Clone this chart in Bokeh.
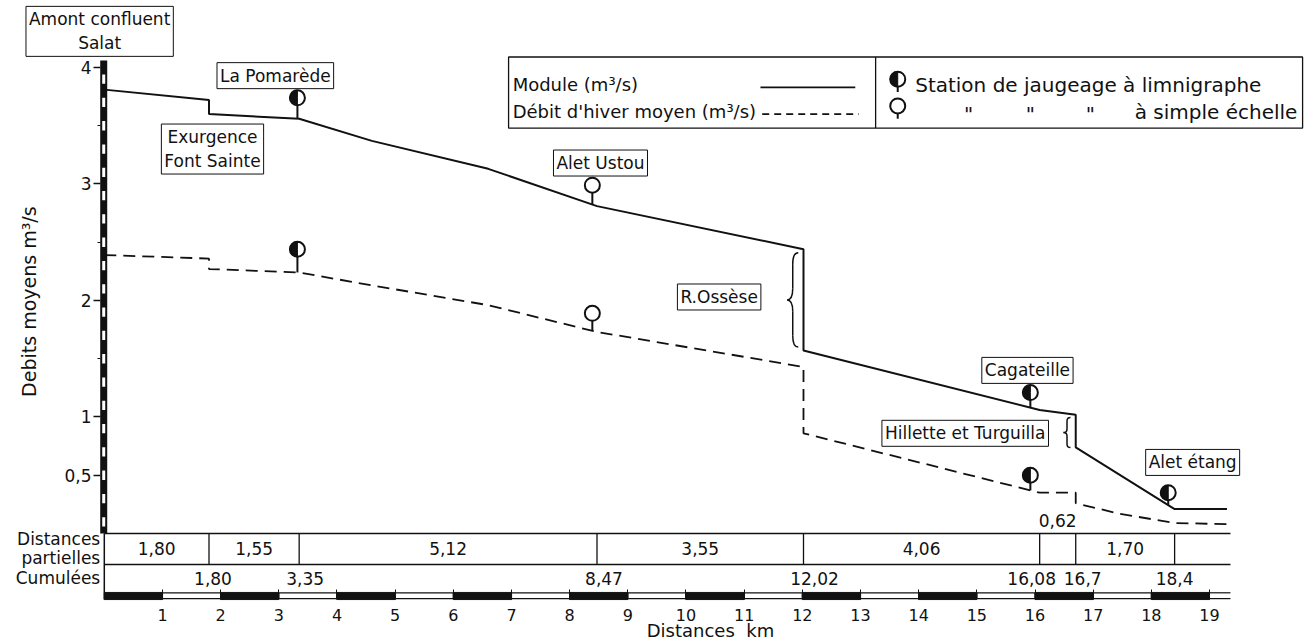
import numpy as np
from bokeh.plotting import figure
from bokeh.models import Range1d, FixedTicker, Label, ColumnDataSource
from bokeh.core.properties import value
from bokeh.embed import file_html
from bokeh.resources import INLINE

FONT = "DejaVu Sans"
INK = "#111111"

# ---------------- data ----------------
# Module (m3/s) along the stream, distance in km from the Salat confluence
module_km = [0.0, 1.80, 1.80, 3.35, 4.6, 6.6, 8.47, 12.02, 12.02, 16.08, 16.7, 16.7, 18.4, 19.3]
module_q = [3.81, 3.72, 3.60, 3.56, 3.37, 3.13, 2.81, 2.44, 1.57, 1.06, 1.02, 0.74, 0.21, 0.21]
# Débit d'hiver moyen (m3/s)
winter_km = [0.0, 1.80, 1.80, 3.35, 4.6, 6.6, 8.47, 12.02, 12.02, 16.08, 16.7, 16.7, 17.45, 18.4, 19.3]
winter_q = [2.39, 2.36, 2.27, 2.24, 2.13, 1.96, 1.73, 1.43, 0.86, 0.35, 0.35, 0.26, 0.17, 0.09, 0.08]

# gauging stations
station_names = ["La Pomarède", "Alet Ustou", "Cagateille", "Alet étang"]
station_km = [3.32, 8.39, 15.92, 18.29]
station_kind = ["limnigraphe", "échelle", "limnigraphe", "limnigraphe"]
station_module_q = [3.74, 2.99, 1.21, 0.35]
station_winter_q = [2.44, 1.89, 0.50, None]

# distances table
partial_km = [1.80, 1.55, 5.12, 3.55, 4.06, 0.62, 1.70]
partial_labels = ["1,80", "1,55", "5,12", "3,55", "4,06", "0,62", "1,70"]
cumul_km = [1.80, 3.35, 8.47, 12.02, 16.08, 16.7, 18.4]
cumul_labels = ["1,80", "3,35", "8,47", "12,02", "16,08", "16,7", "18,4"]

# axes
y_ticks = [0.5, 1.0, 2.0, 3.0, 4.0]
y_tick_labels = ["0,5", "1", "2", "3", "4"]
x_ticks = list(range(1, 20))

# ---------------- annotation placement (styling) ----------------
name_boxes = [
    ("Amont confluent\nSalat", -0.08, 4.31),
    ("La Pomarède", 2.94, 3.93),
    ("Exurgence\nFont Sainte", 1.86, 3.30),
    ("Alet Ustou", 8.53, 3.18),
    ("R.Ossèse", 10.57, 2.03),
    ("Cagateille", 15.87, 1.40),
    ("Hillette et Turguilla", 14.80, 0.86),
    ("Alet étang", 18.71, 0.61),
]
cum_dx = [4, 6, 7, 11, -8, 7, 0]

ROW1 = -0.266            # bottom of the "partielles" row
BAR_T, BAR_B = -0.506, -0.567
END_KM = 19.36
YAXIS_AT = -0.065        # km where the discharge scale stands

p = figure(width=1305, height=644,
           x_range=Range1d(-1.7844, 20.650), y_range=Range1d(-0.9528, 4.575),
           output_backend="svg", toolbar_location=None,
           min_border_left=0, min_border_right=0, min_border_top=0, min_border_bottom=0)
p.xgrid.visible = False
p.ygrid.visible = False
p.outline_line_color = None
p.background_fill_color = "white"
p.border_fill_color = "white"

# ---- y axis (drawn at the discharge scale)
ya = p.yaxis[0]
ya.fixed_location = YAXIS_AT
ya.ticker = FixedTicker(ticks=y_ticks, minor_ticks=[1.5, 2.5, 3.5])
ya.major_label_overrides = dict(zip(y_ticks, y_tick_labels))
ya.axis_line_color = None
ya.major_tick_out = 7
ya.major_tick_in = 0
ya.minor_tick_out = 3
ya.minor_tick_in = 0
ya.major_tick_line_color = INK
ya.minor_tick_line_color = INK
ya.major_tick_line_width = 1.5
ya.major_label_text_font = FONT
ya.major_label_text_font_size = "17px"
ya.major_label_text_color = INK
ya.major_label_standoff = 2

# ---- x axis (drawn under the km scale bar)
xa = p.xaxis[0]
xa.fixed_location = BAR_B
xa.ticker = FixedTicker(ticks=x_ticks, minor_ticks=[])
xa.axis_line_color = None
xa.major_tick_in = 10
xa.major_tick_out = 0
xa.major_tick_line_color = INK
xa.major_label_text_font = FONT
xa.major_label_text_font_size = "16px"
xa.major_label_text_color = INK
xa.major_label_standoff = 9

# axis titles
p.add_layout(Label(x=-1.303, y=1.99, text="Debits moyens m³/s", angle=np.pi / 2,
                   text_font=FONT, text_font_size="19px", text_align="center",
                   text_baseline="middle", text_color=INK))
p.add_layout(Label(x=10.42, y=-0.835, text="Distances\u00a0\u00a0km",
                   text_font=FONT, text_font_size="18px", text_align="center",
                   text_baseline="middle", text_color=INK))

# ---- striped vertical scale (left)
p.segment(x0=[-0.01], y0=[0.0], x1=[-0.01], y1=[4.06], line_color=INK, line_width=7)
wy = np.arange(0.06, 4.0, 0.2)
p.segment(x0=-0.01, y0=wy, x1=-0.01, y1=wy + 0.08, line_color="white", line_width=3)

# ---- series
p.line(module_km, module_q, line_color=INK, line_width=2)
p.line(winter_km, winter_q, line_color=INK, line_width=1.8, line_dash="12 7")

# ---- station markers
def station_marker(xs, ys, ylines, kinds):
    p.segment(x0=xs, y0=ylines, x1=xs, y1=ys, line_color=INK, line_width=2)
    p.scatter(xs, ys, marker="circle", size=15, fill_color="white", line_color=INK, line_width=2)
    hx = [x for x, k in zip(xs, kinds) if k == "limnigraphe"]
    hy = [y for y, k in zip(ys, kinds) if k == "limnigraphe"]
    if hx:
        p.wedge(hx, hy, radius=7.5, radius_units="screen", start_angle=np.pi / 2,
                end_angle=3 * np.pi / 2, fill_color=INK, line_color=INK)

m_line = [float(np.interp(k, module_km, module_q)) for k in station_km]
station_marker(station_km, station_module_q, m_line, station_kind)
w_idx = [i for i, q in enumerate(station_winter_q) if q is not None]
w_line = [float(np.interp(station_km[i], winter_km, winter_q)) for i in w_idx]
station_marker([station_km[i] for i in w_idx], [station_winter_q[i] for i in w_idx],
               w_line, [station_kind[i] for i in w_idx])

# ---- braces for tributary inflows
def brace(x_tip, x_back, y_top, y_bot):
    xm = (x_tip + x_back) / 2
    ym = (y_top + y_bot) / 2
    d = (y_top - y_bot) * 0.12
    p.quadratic(x0=[x_back, xm, x_tip, xm], y0=[y_top, ym + d, ym, y_bot + d],
                x1=[xm, x_tip, xm, x_back], y1=[y_top - d, ym, ym - d, y_bot],
                cx=[xm, xm, xm, xm], cy=[y_top, ym, ym, y_bot], line_color=INK, line_width=1.5)
    p.segment(x0=[xm, xm], y0=[y_top - d, ym - d], x1=[xm, xm], y1=[ym + d, y_bot + d],
              line_color=INK, line_width=1.5)

brace(11.74, 11.93, 2.41, 1.60)
brace(16.49, 16.61, 0.996, 0.738)

# ---- name boxes
for txt, x, y in name_boxes:
    p.add_layout(Label(x=x, y=y, text=txt, text_font=FONT, text_font_size="17px",
                       text_align="center", text_baseline="middle", text_color=INK,
                       border_line_color=INK, border_line_width=1,
                       background_fill_color="white", padding=3))

# ---- legend box
LG_T, LG_B = 4.09, 3.48
p.quad(left=[6.95], right=[20.6], top=[LG_T], bottom=[LG_B], fill_color="white",
       line_color=INK, line_width=1.3)
p.segment(x0=[13.26], y0=[LG_T], x1=[13.26], y1=[LG_B], line_color=INK, line_width=1.3)
p.text(x=[7.02, 7.02], y=[3.85, 3.62], text=["Module (m³/s)", "Débit d'hiver moyen (m³/s)"],
       text_font=value(FONT), text_font_size=value("18px"), text_align="left",
       text_baseline="middle", text_color=INK)
p.segment(x0=[11.28], y0=[3.83], x1=[12.91], y1=[3.83], line_color=INK, line_width=1.8)
p.segment(x0=[11.31], y0=[3.60], x1=[12.97], y1=[3.60], line_color=INK, line_width=1.8,
          line_dash="7 5")
station_marker([13.64, 13.64], [3.90, 3.67], [3.79, 3.56], ["limnigraphe", "échelle"])
p.text(x=[13.94], y=[3.85], text=["Station de jaugeage à limnigraphe"],
       text_font=value(FONT), text_font_size=value("20px"), text_align="left",
       text_baseline="middle", text_color=INK)
p.text(x=[14.86, 15.92, 16.95], y=[3.60] * 3, text=['"', '"', '"'],
       text_font=value(FONT), text_font_size=value("20px"), text_align="center",
       text_baseline="middle", text_color=INK)
p.text(x=[20.51], y=[3.62], text=["à simple échelle"],
       text_font=value(FONT), text_font_size=value("20px"), text_align="right",
       text_baseline="middle", text_color=INK)

# ---- distances table
p.segment(x0=[0, 0], y0=[0, ROW1], x1=[END_KM, END_KM], y1=[0, ROW1], line_color=INK, line_width=1.3)
p.segment(x0=[0], y0=[0], x1=[0], y1=[BAR_B], line_color=INK, line_width=1.5)
p.segment(x0=cumul_km, y0=0, x1=cumul_km, y1=ROW1, line_color=INK, line_width=1.3)

edges = [0.0] + cumul_km
mids = [(a + b) / 2 for a, b in zip(edges[:-1], edges[1:])]
inside = [i for i, d in enumerate(partial_km) if d >= 1.0]
above = [i for i, d in enumerate(partial_km) if d < 1.0]
p.text(x=[mids[i] for i in inside], y=ROW1 / 2, text=[partial_labels[i] for i in inside],
       text_font=value(FONT), text_font_size=value("17px"), text_align="center",
       text_baseline="middle", text_color=INK)
p.text(x=[mids[i] for i in above], y=0, y_offset=-6, text=[partial_labels[i] for i in above],
       text_font=value(FONT), text_font_size=value("17px"), text_align="center",
       text_baseline="bottom", text_color=INK)
cum_src = ColumnDataSource(dict(x=cumul_km, t=cumul_labels, dx=cum_dx))
p.text(x="x", y=(ROW1 + BAR_T) / 2, text="t", x_offset="dx", source=cum_src,
       text_font=value(FONT), text_font_size=value("17px"), text_align="center",
       text_baseline="middle", text_color=INK)

p.add_layout(Label(x=-0.07, y=ROW1 / 2, text="Distances\npartielles", text_font=FONT,
                   text_font_size="17px", text_align="right", text_baseline="middle",
                   text_color=INK, text_line_height=0.95))
p.add_layout(Label(x=-0.07, y=(ROW1 + BAR_T) / 2, text="Cumulées", text_font=FONT,
                   text_font_size="17px", text_align="right", text_baseline="middle",
                   text_color=INK))

# ---- km scale bar
k0 = np.arange(0, 19)
blk = k0[k0 % 2 == 0]
wht = k0[k0 % 2 == 1]
p.quad(left=wht, right=wht + 1, top=BAR_T - 0.003, bottom=BAR_B + 0.008, fill_color="white",
       line_color=INK, line_width=1.2)
p.quad(left=blk, right=blk + 1, top=BAR_T, bottom=BAR_B, fill_color=INK, line_color=INK)
p.segment(x0=[19, 19], y0=[BAR_T - 0.003, BAR_B + 0.008], x1=[END_KM, END_KM],
          y1=[BAR_T - 0.003, BAR_B + 0.008], line_color=INK, line_width=1.2)

open("out.html", "w").write(file_html(p, INLINE))
